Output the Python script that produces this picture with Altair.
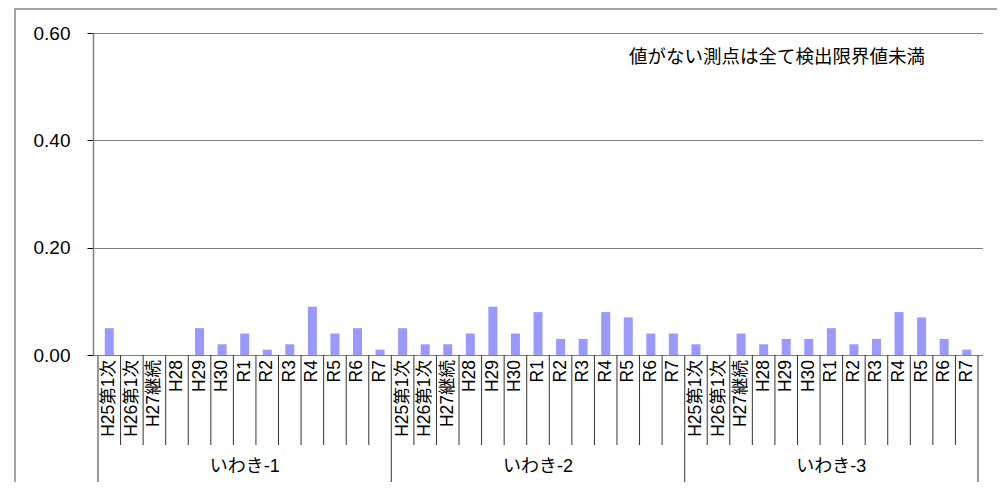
import altair as alt
import pandas as pd

# ---- data ----
groups = ["いわき-1", "いわき-2", "いわき-3"]
periods = ["H25第1次", "H26第1次", "H27継続", "H28", "H29", "H30",
           "R1", "R2", "R3", "R4", "R5", "R6", "R7"]
iwaki1 = [0.05, None, None, None, 0.05, 0.02, 0.04, 0.01, 0.02, 0.09, 0.04, 0.05, 0.01]
iwaki2 = [0.05, 0.02, 0.02, 0.04, 0.09, 0.04, 0.08, 0.03, 0.03, 0.08, 0.07, 0.04, 0.04]
iwaki3 = [0.02, None, 0.04, 0.02, 0.03, 0.03, 0.05, 0.02, 0.03, 0.08, 0.07, 0.03, 0.01]
y_ticks = [0.0, 0.2, 0.4, 0.6]
note = "値がない測点は全て検出限界値未満"

series = [iwaki1, iwaki2, iwaki3]
n = len(periods)
N = n * len(groups)

rows = []
for g, (gname, vals) in enumerate(zip(groups, series)):
    for i, (p, v) in enumerate(zip(periods, vals)):
        idx = g * n + i
        rows.append({"group": gname, "period": p, "value": v, "xc": idx + 0.5})
df = pd.DataFrame(rows)
bars_df = df.dropna(subset=["value"])

bounds = list(range(N + 1))
group_bounds = [g * n for g in range(len(groups) + 1)]
cat_df = pd.DataFrame({"b": [b for b in bounds if b not in group_bounds]})
grp_df = pd.DataFrame({"b": group_bounds})
grp_lab = pd.DataFrame({"group": groups, "gc": [g * n + n / 2 for g in range(len(groups))]})

W, H = 890, 322
FONT = "Liberation Sans, 'Noto Sans CJK JP'"

xscale = alt.Scale(domain=[0, N], nice=False, zero=False)
yscale = alt.Scale(domain=[0, 0.6], nice=False)

bars = alt.Chart(bars_df).mark_bar(color="#9999FF", size=9).encode(
    x=alt.X("xc:Q", scale=xscale,
            axis=alt.Axis(labels=False, ticks=False, grid=False, title=None,
                          domainColor="#000000", domainWidth=1)),
    y=alt.Y("value:Q", scale=yscale,
            axis=alt.Axis(values=y_ticks, format=".2f", title=None,
                          grid=True, gridColor="#000000", gridDash=[1, 1], gridWidth=1,
                          domainColor="#808080", domainWidth=1.5,
                          tickColor="#000000", tickSize=6, labelPadding=17,
                          labelFont=FONT, labelFontSize=19, labelColor="#000000")),
)

cat_rules = alt.Chart(cat_df).mark_rule(color="#333333", strokeWidth=1).encode(
    x=alt.X("b:Q", scale=xscale, axis=None),
    y=alt.value(H), y2=alt.value(H + 90),
)
grp_rules = alt.Chart(grp_df).mark_rule(color="#555555", strokeWidth=1.2).encode(
    x=alt.X("b:Q", scale=xscale, axis=None),
    y=alt.value(H), y2=alt.value(H + 128),
)

cat_labels = alt.Chart(df).mark_text(
    angle=270, align="right", baseline="middle", font=FONT, fontSize=17.5, color="#000000"
).encode(
    x=alt.X("xc:Q", scale=xscale, axis=None),
    y=alt.value(H + 5),
    text="period:N",
)

grp_labels = alt.Chart(grp_lab).mark_text(
    baseline="middle", font=FONT, fontSize=18, color="#000000"
).encode(
    x=alt.X("gc:Q", scale=xscale, axis=None),
    y=alt.value(H + 112),
    text="group:N",
)

note_df = pd.DataFrame({"t": [note]})
note_text = alt.Chart(note_df).mark_text(
    baseline="middle", font=FONT, fontSize=18.5, color="#000000"
).encode(x=alt.value(684), y=alt.value(24), text="t:N")

border = alt.Chart(note_df).mark_rect(fill=None, stroke="#888888", strokeWidth=1.5).encode(
    x=alt.value(-78), x2=alt.value(W + 60), y=alt.value(-24), y2=alt.value(H + 200)
)

chart = alt.layer(border, bars, cat_rules, grp_rules, cat_labels, grp_labels, note_text).properties(
    width=W, height=H,
    autosize=alt.AutoSizeParams(type="none"),
    padding={"left": 85, "top": 25, "right": 14, "bottom": 127},
).configure_view(stroke=None)

chart.save("out.html", embed_options={"renderer": "svg", "actions": False})
